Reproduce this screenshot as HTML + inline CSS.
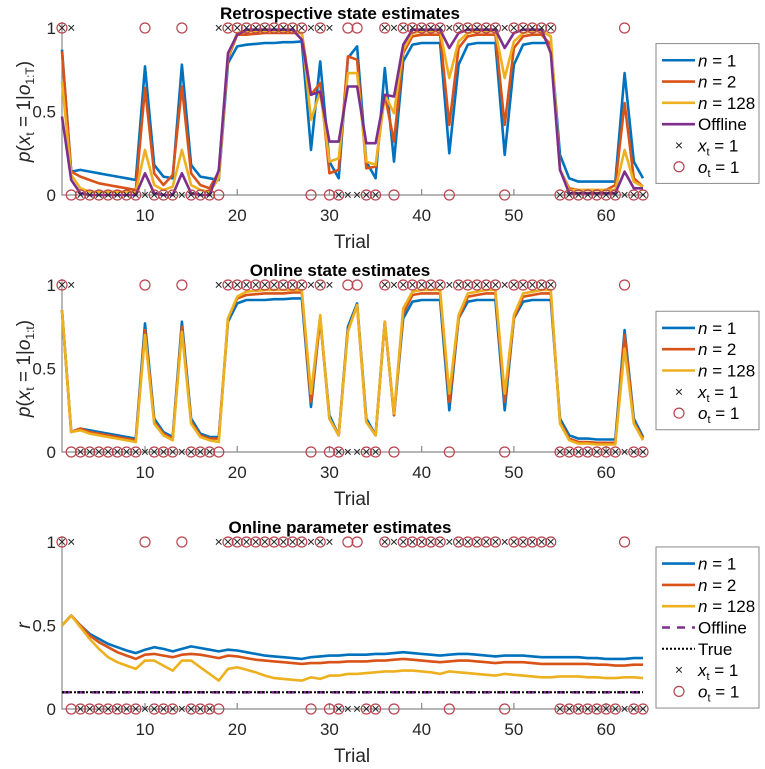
<!DOCTYPE html>
<html><head><meta charset="utf-8">
<style>
html,body{margin:0;padding:0;background:#fff;}
svg{display:block;font-family:"Liberation Sans",Arial,sans-serif;}
</style></head>
<body>
<svg id="chart" width="765" height="769" viewBox="0 0 765 769" xmlns="http://www.w3.org/2000/svg"></svg>
<script>
const trials = Array.from({length:64},(_,i)=>i+1);
const xTicks = [10,20,30,40,50,60];
const yTicks = [0,0.5,1];
const yTickLabels = ["0","0.5","1"];
const states = [1,1,0,0,0,0,0,0,0,0,0,0,0,0,0,0,0,1,1,1,1,1,1,1,1,1,1,1,1,1,0,0,0,0,0,1,1,1,1,1,1,1,1,1,1,1,1,1,1,1,1,1,1,1,0,0,0,0,0,0,0,0,0,0];
const obs = [1,0,0,0,0,0,0,0,0,1,0,0,0,1,0,0,0,0,1,1,1,1,1,1,1,1,1,0,1,0,0,1,1,0,0,1,0,1,1,1,1,1,0,1,1,1,1,1,0,1,1,1,1,1,0,0,0,0,0,0,0,1,0,0];

const retroN1 = [.87,.14,.15,.14,.13,.12,.11,.10,.09, .77,.18,.11,.10,.78,.18,.11,.10,.09, .79,.89,.90,.905,.91,.91,.915,.915,.92, .27,.80,.2,.1,.82,.89,.2,.1,.76,.2, .8,.9,.91,.91,.91, .25,.78,.9,.91,.91,.91, .24,.78,.9,.91,.91,.91, .24,.1,.08,.08,.08,.08,.08,.73,.2,.1];
const retroN2 = [.86,.14,.11,.09,.07,.06,.05,.04,.03, .64,.13,.06,.12,.65,.13,.06,.04,.14, .82,.96,.96,.965,.97,.97,.97,.97,.97, .6,.67,.13,.15,.83,.81,.16,.17,.6,.32, .85,.95,.96,.96,.96, .42,.88,.95,.96,.96,.96, .42,.88,.95,.96,.96,.9, .15,.04,.03,.03,.03,.03,.06,.55,.1,.05];
const retroN128 = [.68,.12,.04,.02,.02,.02,.02,.02,.02, .27,.06,.03,.05,.27,.06,.03,.02,.1, .83,.97,.98,.98,.98,.98,.98,.98,.97, .45,.62,.2,.22,.73,.73,.2,.18,.6,.49, .87,.97,.98,.98,.98, .7,.92,.97,.98,.98,.98, .7,.92,.97,.98,.98,.95, .15,.03,.03,.03,.03,.03,.03,.27,.08,.05];
const retroOffline = [.47,.09,.01,0,0,0,0,0,0, .13,.01,0,0,.13,.01,0,0,.15, .85,.96,.99,.99,.99,.99,.99,.99,.93, .6,.62,.32,.32,.65,.65,.31,.31,.6,.59, .9,.99,.99,.99,.99, .88,.97,.99,.99,.99,.99, .88,.97,.99,.99,.99,.85, .15,.01,.01,.01,.01,.01,.01,.14,.04,.04];

const onlineN1 = [.85,.12,.14,.13,.12,.11,.10,.09,.08, .77,.2,.12,.09,.78,.2,.11,.09,.09, .78,.89,.91,.91,.91,.915,.915,.92,.92, .27,.8,.22,.1,.75,.89,.2,.1,.78,.22, .8,.9,.91,.91,.91, .25,.8,.9,.91,.91,.91, .25,.8,.9,.91,.91,.91, .2,.1,.08,.08,.075,.075,.075,.73,.2,.09];
const onlineN2 = [.85,.12,.14,.12,.11,.1,.09,.08,.07, .73,.18,.11,.08,.75,.18,.1,.08,.08, .8,.92,.94,.945,.95,.95,.95,.955,.955, .3,.8,.2,.1,.73,.88,.18,.1,.78,.22, .83,.94,.95,.95,.95, .3,.8,.93,.94,.95,.95, .3,.8,.93,.94,.95,.95, .18,.08,.06,.06,.055,.055,.055,.7,.18,.08];
const onlineN128 = [.85,.12,.13,.11,.1,.09,.08,.07,.06, .7,.17,.1,.07,.72,.17,.09,.07,.06, .8,.93,.96,.965,.97,.97,.97,.97,.97, .35,.82,.2,.1,.72,.88,.18,.1,.78,.23, .86,.96,.97,.97,.97, .35,.82,.95,.96,.97,.97, .35,.82,.95,.96,.97,.97, .17,.07,.05,.05,.045,.045,.045,.62,.17,.07];

const paramN1 = [.5,.56,.5,.45,.42,.39,.37,.35,.335, .355,.37,.36,.345,.36,.375,.365,.355,.345, .355,.35,.34,.33,.32,.315,.31,.305,.3, .31,.315,.32,.32,.325,.325,.325,.33,.33,.335, .34,.335,.33,.325,.32, .325,.33,.33,.325,.32,.315, .32,.32,.32,.315,.31,.31, .31,.31,.31,.305,.305,.3,.3,.3,.305,.305];
const paramN2 = [.5,.56,.5,.44,.4,.37,.34,.32,.3, .325,.33,.32,.31,.325,.33,.325,.315,.305, .32,.315,.305,.295,.29,.285,.28,.275,.27, .275,.275,.28,.28,.285,.285,.285,.29,.29,.295, .3,.295,.29,.285,.28, .285,.29,.29,.285,.28,.275, .28,.28,.28,.275,.27,.27, .27,.27,.27,.27,.265,.265,.26,.26,.265,.265];
const paramN128 = [.5,.56,.49,.42,.36,.31,.28,.26,.24, .29,.29,.26,.23,.29,.29,.25,.21,.17, .24,.25,.235,.22,.2,.185,.18,.175,.17, .19,.18,.2,.2,.21,.21,.215,.22,.225,.225, .23,.23,.225,.22,.21, .225,.22,.215,.21,.205,.2, .21,.205,.2,.195,.19,.19, .195,.195,.195,.19,.19,.185,.185,.19,.19,.185];
const paramOffline = 0.1;
const paramTrue = 0.1;

const C = {blue:"#0072BD", orange:"#D95319", yellow:"#EDB120", purple:"#7E2F8E", red:"#B8434E"};
const svg = document.getElementById('chart');
const NS = "http://www.w3.org/2000/svg";
function mk(tag, attrs, parent){ const e=document.createElementNS(NS,tag); for(const k in attrs) e.setAttribute(k,attrs[k]); (parent||svg).appendChild(e); return e; }

const X0=62, X1=643;
function xScale(t){ return X0 + (t-1)*(X1-X0)/63; }

function drawPanel(cfg){
  const g = mk('g',{});
  
  
  const yS = v => cfg.y0 - v*(cfg.y0-cfg.y1);
  // axes
  const ax = mk('path',{d:`M${X0},${cfg.y1-6} V${cfg.y0} H${X1+2}`,stroke:"#8a8a8a","stroke-width":1.2,fill:"none"},g);
  
  
  xTicks.forEach(t=>{
    const tk = mk('line',{x1:xScale(t),x2:xScale(t),y1:cfg.y0,y2:cfg.y0-6,stroke:"#8a8a8a","stroke-width":1.2},g);
    
    
    const tl = mk('text',{x:xScale(t),y:cfg.y0+26,"text-anchor":"middle","font-size":17,fill:"#262626"},g);
    tl.textContent=t;
    
    
  });
  yTicks.forEach((v,i)=>{
    const tl = mk('text',{x:X0-6,y:yS(v)+6,"text-anchor":"end","font-size":17,fill:"#262626"},g);
    tl.textContent=yTickLabels[i];
    
    
  });
  const title = mk('text',{x:340,y:cfg.y0-176,"text-anchor":"middle","font-size":17,"font-weight":"bold",fill:"#000"},g);
  title.textContent = cfg.title;
  
  
  const xl = mk('text',{x:352,y:cfg.y0+53,"text-anchor":"middle","font-size":19,fill:"#262626"},g);
  xl.textContent='Trial';
  
  
  const yl = mk('text',{x:0,y:0,transform:`translate(30,${(cfg.y0+cfg.y1)/2}) rotate(-90)`,"text-anchor":"middle","font-size":19,fill:"#262626"},g);
  yl.innerHTML = cfg.ylabel;
  
  
  // constant lines
  (cfg.hlines||[]).forEach(h=>{
    const l = mk('line',{x1:xScale(1),x2:xScale(64),y1:yS(h.v),y2:yS(h.v),stroke:h.color,"stroke-width":h.w,"stroke-dasharray":h.dash},g);
    
    
  });
  // series
  cfg.series.forEach(s=>{
    const d = s.data.map((v,i)=>(i?'L':'M')+xScale(trials[i]).toFixed(1)+','+yS(v).toFixed(1)).join(' ');
    const p = mk('path',{d:d,stroke:s.color,"stroke-width":2.6,fill:"none","stroke-linejoin":"round"},g);
    
    
  });
  // markers
  trials.forEach((t,i)=>{
    const xv = xScale(t);
    const yx = states[i]===1 ? yS(1) : yS(0);
    const m = mk('text',{x:xv,y:yx+4.5,"text-anchor":"middle","font-size":14,fill:"#222"},g);
    m.textContent='×';
    
    
    const yo = obs[i]===1 ? yS(1) : yS(0);
    const c = mk('circle',{cx:xv,cy:yo,r:5,fill:"none",stroke:C.red,"stroke-width":1.2},g);
    
    
  });
  // legend
  const n = cfg.legend.length, step=21.3;
  const lh = n*step+12;
  const ly = (cfg.y0+cfg.y1)/2 - lh/2 + 2;
  const lg = mk('g',{},g);
  
  
  mk('rect',{x:656,y:ly,width:103,height:lh,fill:"#fff",stroke:"#8a8a8a","stroke-width":1},lg);
  cfg.legend.forEach((e,k)=>{
    const cy = ly+6+step*(k+0.5);
    const eg = mk('g',{},lg);
    
    
    if(e.type==='line') mk('line',{x1:662,x2:695,y1:cy,y2:cy,stroke:e.color,"stroke-width":e.w||2.6,"stroke-dasharray":e.dash||"none"},eg);
    else if(e.type==='x'){ const t=mk('text',{x:679,y:cy+4.5,"text-anchor":"middle","font-size":14,fill:"#222"},eg); t.textContent='×'; }
    else mk('circle',{cx:679,cy:cy,r:5,fill:"none",stroke:C.red,"stroke-width":1.2},eg);
    const tx = mk('text',{x:698,y:cy+6,"font-size":17,fill:"#000"},eg);
    tx.innerHTML = e.label;
  });
}

const L_n1={type:'line',color:C.blue,label:'<tspan font-style="italic">n</tspan> = 1'};
const L_n2={type:'line',color:C.orange,label:'<tspan font-style="italic">n</tspan> = 2'};
const L_n128={type:'line',color:C.yellow,label:'<tspan font-style="italic">n</tspan> = 128'};
const L_x={type:'x',label:'<tspan font-style="italic">x</tspan><tspan font-size="11" dy="4">t</tspan><tspan dy="-4"> = 1</tspan>'};
const L_o={type:'o',label:'<tspan font-style="italic">o</tspan><tspan font-size="11" dy="4">t</tspan><tspan dy="-4"> = 1</tspan>'};

drawPanel({name:'retrospective-panel',title:'Retrospective state estimates',y1:28,y0:195,
  ylabel:'<tspan font-style="italic">p</tspan>(<tspan font-style="italic">x</tspan><tspan font-size="12" dy="4">t</tspan><tspan dy="-4"> = 1|</tspan><tspan font-style="italic">o</tspan><tspan font-size="12" dy="4">1:T</tspan><tspan dy="-4">)</tspan>',
  series:[{name:'retro-n1-line',data:retroN1,color:C.blue},{name:'retro-n2-line',data:retroN2,color:C.orange},{name:'retro-n128-line',data:retroN128,color:C.yellow},{name:'retro-offline-line',data:retroOffline,color:C.purple}],
  legend:[L_n1,L_n2,L_n128,{type:'line',color:C.purple,label:'Offline'},L_x,L_o]});
drawPanel({name:'online-state-panel',title:'Online state estimates',y1:285,y0:452,
  ylabel:'<tspan font-style="italic">p</tspan>(<tspan font-style="italic">x</tspan><tspan font-size="12" dy="4">t</tspan><tspan dy="-4"> = 1|</tspan><tspan font-style="italic">o</tspan><tspan font-size="12" dy="4">1:t</tspan><tspan dy="-4">)</tspan>',
  series:[{name:'online-n1-line',data:onlineN1,color:C.blue},{name:'online-n2-line',data:onlineN2,color:C.orange},{name:'online-n128-line',data:onlineN128,color:C.yellow}],
  legend:[L_n1,L_n2,L_n128,L_x,L_o]});
drawPanel({name:'online-parameter-panel',title:'Online parameter estimates',y1:542,y0:709,
  ylabel:'<tspan font-style="italic">r</tspan>',
  hlines:[{v:paramOffline,color:C.purple,w:2.6,dash:"8 7",name:'offline-line'},{v:paramTrue,color:"#000",w:2,dash:"2 2",name:'true-line'}],
  series:[{name:'param-n1-line',data:paramN1,color:C.blue},{name:'param-n2-line',data:paramN2,color:C.orange},{name:'param-n128-line',data:paramN128,color:C.yellow}],
  legend:[L_n1,L_n2,L_n128,{type:'line',color:C.purple,dash:"8 7",label:'Offline'},{type:'line',color:"#000",w:2,dash:"2 2",label:'True'},L_x,L_o]});
</script>
</body></html>
